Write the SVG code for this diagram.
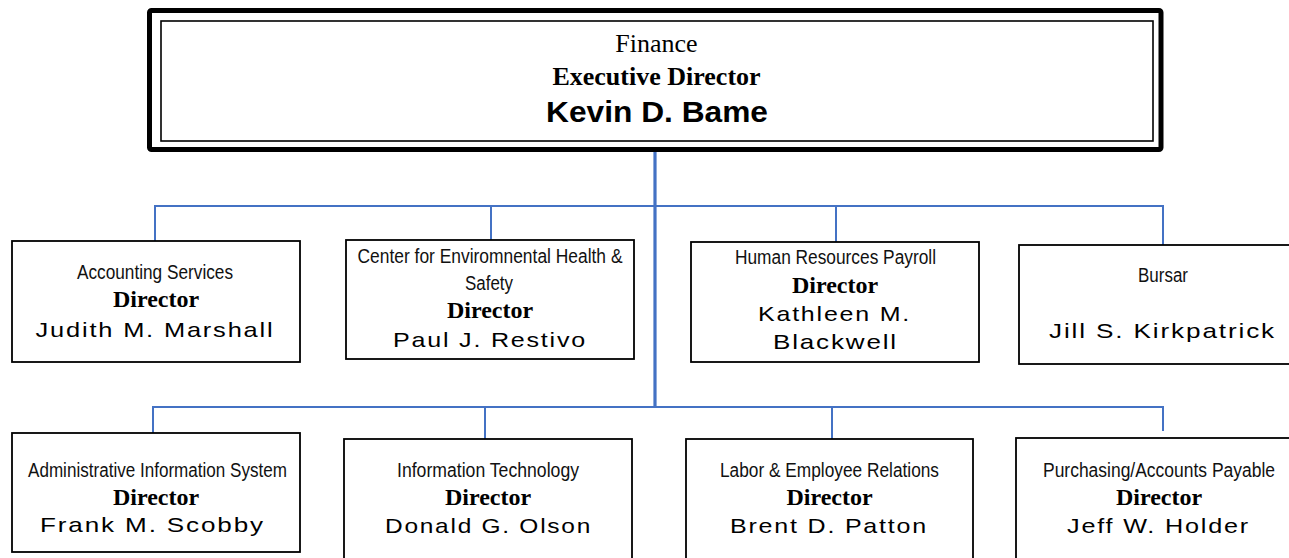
<svg xmlns="http://www.w3.org/2000/svg" width="1289" height="558" viewBox="0 0 1289 558">
  <style>
    .box { fill: #ffffff; stroke: #000000; stroke-width: 1.8; }
    .link { fill: none; stroke: #4472C4; stroke-width: 2; }
    .trunk { fill: none; stroke: #4472C4; stroke-width: 3.2; }
    .dept { font-family: "Liberation Sans", Arial, sans-serif; font-size: 19.5px; fill: #111; text-anchor: middle; }
    .role { font-family: "Liberation Serif", "Times New Roman", serif; font-weight: bold; font-size: 24px; fill: #000; text-anchor: middle; }
    .name { font-family: "Liberation Sans", Arial, sans-serif; font-size: 21px; letter-spacing: 1.5px; fill: #000; text-anchor: middle; }
  </style>

  <!-- reporting lines -->
  <g id="connectors">
    <line class="trunk" x1="655" y1="150" x2="655" y2="407"/>
    <polyline class="link" points="155,241 155,206 1163,206 1163,245"/>
    <line class="link" x1="491" y1="206" x2="491" y2="240"/>
    <line class="link" x1="836" y1="206" x2="836" y2="242"/>
    <polyline class="link" points="153,433 153,407 1163,407 1163,431"/>
    <line class="link" x1="485" y1="407" x2="485" y2="439"/>
    <line class="link" x1="832" y1="407" x2="832" y2="439"/>
  </g>

  <!-- executive director -->
  <g id="node-finance">
    <rect x="149.5" y="10.5" width="1011.5" height="139" rx="2" fill="#ffffff" stroke="#000" stroke-width="5"/>
    <rect x="161" y="21" width="992" height="120" fill="none" stroke="#000" stroke-width="1.6"/>
    <text x="656.5" y="52" font-family="'Liberation Serif', 'Times New Roman', serif" font-size="26" text-anchor="middle">Finance</text>
    <text x="656.5" y="85" font-family="'Liberation Serif', 'Times New Roman', serif" font-size="26" font-weight="bold" text-anchor="middle">Executive Director</text>
    <text x="657" y="122" font-family="'Liberation Sans', Arial, sans-serif" font-size="30" font-weight="bold" text-anchor="middle" textLength="222" lengthAdjust="spacingAndGlyphs">Kevin D. Bame</text>
  </g>

  <!-- first row -->
  <g id="node-accounting">
    <rect class="box" x="12" y="241" width="288" height="121"/>
    <text class="dept" x="155" y="279" textLength="156" lengthAdjust="spacingAndGlyphs">Accounting Services</text>
    <text class="role" x="156" y="307">Director</text>
    <text class="name" x="155" y="337" textLength="239" lengthAdjust="spacingAndGlyphs">Judith M. Marshall</text>
  </g>

  <g id="node-ehs">
    <rect class="box" x="346" y="240" width="288" height="119"/>
    <text class="dept" x="490" y="263" textLength="265" lengthAdjust="spacingAndGlyphs">Center for Enviromnental Health &amp;</text>
    <text class="dept" x="489" y="290" textLength="48" lengthAdjust="spacingAndGlyphs">Safety</text>
    <text class="role" x="490" y="318">Director</text>
    <text class="name" x="490" y="347" textLength="194" lengthAdjust="spacingAndGlyphs">Paul J. Restivo</text>
  </g>

  <g id="node-hr-payroll">
    <rect class="box" x="691" y="242" width="288" height="120"/>
    <text class="dept" x="835.5" y="264" textLength="201" lengthAdjust="spacingAndGlyphs">Human Resources Payroll</text>
    <text class="role" x="835" y="293">Director</text>
    <text class="name" x="834.5" y="321" textLength="153" lengthAdjust="spacingAndGlyphs">Kathleen M.</text>
    <text class="name" x="835.5" y="349" textLength="125" lengthAdjust="spacingAndGlyphs">Blackwell</text>
  </g>

  <g id="node-bursar">
    <rect class="box" x="1019" y="245" width="288" height="119"/>
    <text class="dept" x="1163" y="282" textLength="50" lengthAdjust="spacingAndGlyphs">Bursar</text>
    <text class="name" x="1162.5" y="338" textLength="227" lengthAdjust="spacingAndGlyphs">Jill S. Kirkpatrick</text>
  </g>

  <!-- second row -->
  <g id="node-ais">
    <rect class="box" x="12" y="433" width="288" height="119"/>
    <text class="dept" x="157.5" y="477" textLength="259" lengthAdjust="spacingAndGlyphs">Administrative Information System</text>
    <text class="role" x="156" y="505">Director</text>
    <text class="name" x="152.5" y="532" textLength="225" lengthAdjust="spacingAndGlyphs">Frank M. Scobby</text>
  </g>

  <g id="node-it">
    <rect class="box" x="344" y="439" width="288" height="130"/>
    <text class="dept" x="488" y="477" textLength="182" lengthAdjust="spacingAndGlyphs">Information Technology</text>
    <text class="role" x="488" y="505">Director</text>
    <text class="name" x="488.5" y="533" textLength="207" lengthAdjust="spacingAndGlyphs">Donald G. Olson</text>
  </g>

  <g id="node-labor">
    <rect class="box" x="686" y="439" width="287" height="130"/>
    <text class="dept" x="829.5" y="477" textLength="219" lengthAdjust="spacingAndGlyphs">Labor &amp; Employee Relations</text>
    <text class="role" x="829.5" y="505">Director</text>
    <text class="name" x="829" y="533" textLength="198" lengthAdjust="spacingAndGlyphs">Brent D. Patton</text>
  </g>

  <g id="node-purchasing">
    <rect class="box" x="1016" y="438" width="286" height="130"/>
    <text class="dept" x="1159" y="477" textLength="232" lengthAdjust="spacingAndGlyphs">Purchasing/Accounts Payable</text>
    <text class="role" x="1159" y="505">Director</text>
    <text class="name" x="1158.5" y="533" textLength="183" lengthAdjust="spacingAndGlyphs">Jeff W. Holder</text>
  </g>
</svg>
